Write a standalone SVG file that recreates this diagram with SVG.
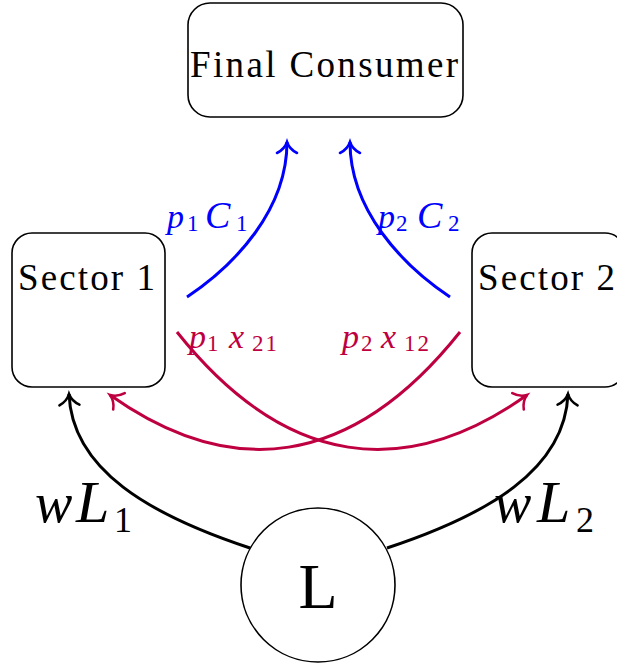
<svg xmlns="http://www.w3.org/2000/svg" width="617" height="664" viewBox="0 0 617 664">
<style>
.box{fill:#fff;stroke:#000;stroke-width:1.6}
.lbl{font-family:"Liberation Serif","DejaVu Serif",serif;fill:#000}
.m{font-family:"Liberation Serif","DejaVu Serif",serif;font-style:italic}
.sub{font-style:normal}
.blue{fill:none;stroke:#0000ff;stroke-width:3}
.purp{fill:none;stroke:#bf0040;stroke-width:3}
.blk{fill:none;stroke:#000;stroke-width:3}
</style>
<defs>
<marker id="ab" markerUnits="userSpaceOnUse" markerWidth="30" markerHeight="30" viewBox="-15 -15 30 30" refX="0" refY="0" orient="auto" overflow="visible">
<path d="M-11,-10 C-8,-4 -3,-1 0,0 C-3,1 -8,4 -11,10" fill="none" stroke="#0000ff" stroke-width="2.6" stroke-linecap="round"/>
</marker>
<marker id="ap" markerUnits="userSpaceOnUse" markerWidth="30" markerHeight="30" viewBox="-15 -15 30 30" refX="0" refY="0" orient="auto" overflow="visible">
<path d="M-11,-10 C-8,-4 -3,-1 0,0 C-3,1 -8,4 -11,10" fill="none" stroke="#bf0040" stroke-width="2.6" stroke-linecap="round"/>
</marker>
<marker id="ak" markerUnits="userSpaceOnUse" markerWidth="30" markerHeight="30" viewBox="-15 -15 30 30" refX="0" refY="0" orient="auto" overflow="visible">
<path d="M-11,-10 C-8,-4 -3,-1 0,0 C-3,1 -8,4 -11,10" fill="none" stroke="#000" stroke-width="2.6" stroke-linecap="round"/>
</marker>
</defs>
<g id="connectors">
<path class="blue" d="M187,297 C235,265 287,210 287,142" marker-end="url(#ab)"/>
<path class="blue" d="M450,297 C402,265 350,210 350,142" marker-end="url(#ab)"/>
<path class="purp" d="M460,332 C350,470 230,480 110,395" marker-end="url(#ap)"/>
<path class="purp" d="M177,332 C287,470 407,480 527,395" marker-end="url(#ap)"/>
<path class="blk" d="M250,548 C150,515 72,470 69,394" marker-end="url(#ak)"/>
<path class="blk" d="M387,548 C487,515 565,470 568,394" marker-end="url(#ak)"/>
<text class="m" fill="#0000ff" font-size="34"><tspan x="167" y="228">p</tspan><tspan class="sub" x="187" y="231" font-size="23">1</tspan><tspan x="205" y="228" font-size="38">C</tspan><tspan class="sub" x="236" y="231" font-size="23">1</tspan></text>
<text class="m" fill="#0000ff" font-size="34"><tspan x="378" y="228">p</tspan><tspan class="sub" x="396" y="231" font-size="23">2</tspan><tspan x="417" y="228" font-size="38">C</tspan><tspan class="sub" x="448" y="231" font-size="23">2</tspan></text>
<text class="m" fill="#bf0040" font-size="34"><tspan x="189" y="348">p</tspan><tspan class="sub" x="207" y="351" font-size="23">1</tspan><tspan x="229" y="348">x</tspan><tspan class="sub" x="252" y="351" font-size="23" letter-spacing="2">21</tspan></text>
<text class="m" fill="#bf0040" font-size="34"><tspan x="342" y="348">p</tspan><tspan class="sub" x="361" y="351" font-size="23">2</tspan><tspan x="381" y="348">x</tspan><tspan class="sub" x="404" y="351" font-size="23" letter-spacing="2">12</tspan></text>
<text class="m" fill="#000" font-size="56"><tspan x="35" y="522">w</tspan><tspan x="76" y="522" font-size="60">L</tspan><tspan class="sub" x="114" y="532" font-size="36">1</tspan></text>
<text class="m" fill="#000" font-size="56"><tspan x="494" y="522">w</tspan><tspan x="537" y="522" font-size="60">L</tspan><tspan class="sub" x="576" y="532" font-size="36">2</tspan></text>
</g>
<g id="final-consumer">
<rect class="box" x="188" y="3" width="275" height="114" rx="22"/>
<text class="lbl" x="190" y="77" font-size="37" textLength="268" lengthAdjust="spacing">Final Consumer</text>
</g>
<g id="sector-1">
<rect class="box" x="12" y="233" width="153" height="154" rx="20"/>
<text class="lbl" x="18" y="290" font-size="37" textLength="137" lengthAdjust="spacing">Sector 1</text>
</g>
<g id="sector-2">
<rect class="box" x="472" y="233" width="153" height="154" rx="20"/>
<text class="lbl" x="478" y="290" font-size="37" textLength="137" lengthAdjust="spacing">Sector 2</text>
</g>
<g id="labor">
<circle class="box" cx="318" cy="585" r="77"/>
<text class="lbl" x="318" y="608" font-size="64" text-anchor="middle">L</text>
</g>
</svg>
